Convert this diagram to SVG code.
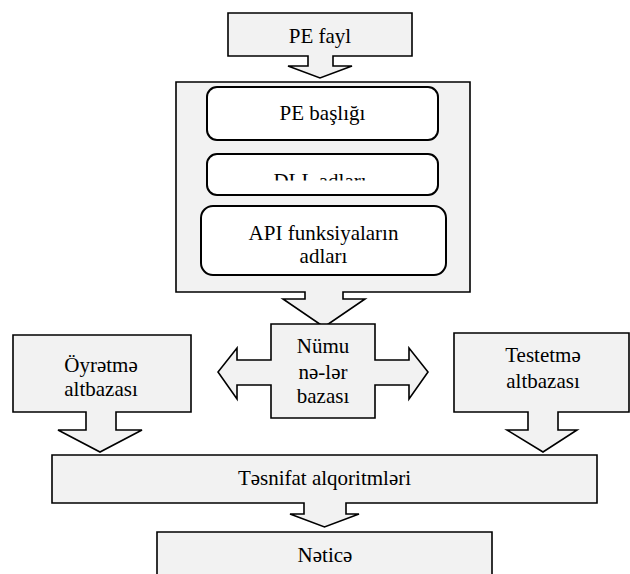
<svg xmlns="http://www.w3.org/2000/svg" width="630" height="574" viewBox="0 0 630 574">
<style>
.co{fill:#f2f2f2;stroke:#000;stroke-width:1.6;stroke-linejoin:miter}
.rb{fill:#fff;stroke:#000;stroke-width:2}
.t{font-family:'Liberation Serif',Tinos,'Times New Roman','DejaVu Serif',serif;font-size:21px;fill:#000;text-anchor:middle}
</style>
<defs>
<clipPath id="dllclip"><rect x="200" y="150" width="250" height="30.5"/></clipPath>
</defs>
<rect width="630" height="574" fill="#fff"/>
<g id="connectors"></g>
<g id="pe-fayl">
<path class="co" d="M228,13 H412 V56 H333 V66 H352 L320,78 L288,66 H308 V56 H228 Z"/>
<text class="t" x="320" y="43">PE fayl</text>
</g>
<g id="pe-container">
<path class="co" d="M176,82 H470 V292 H343 V299 H365 L324,327 L283,299 H305 V292 H176 Z"/>
</g>
<g id="pe-basligi">
<rect class="rb" x="207" y="87" width="231" height="53" rx="10"/>
<text class="t" x="322.5" y="120">PE başlığı</text>
</g>
<g id="dll-adlari">
<rect class="rb" x="207" y="154" width="231" height="41" rx="10"/>
<text class="t" x="320" y="188" clip-path="url(#dllclip)">DLL adları</text>
</g>
<g id="api-adlari">
<rect class="rb" x="201" y="206" width="245" height="69" rx="12"/>
<text class="t" x="323.5" y="240">API funksiyaların</text>
<text class="t" x="323.5" y="263">adları</text>
</g>
<g id="numuneler">
<path class="co" d="M271,324 H375 V360 H409 V348 L428,372 L409,399 V385 H375 V418 H271 V385 H237 V399 L218,372 L237,348 V360 H271 Z"/>
<text class="t" x="323" y="353">Nümu</text>
<text class="t" x="323" y="379">nə-lər</text>
<text class="t" x="323" y="403">bazası</text>
</g>
<g id="oyretme">
<path class="co" d="M13,335 H191 V412 H116 V430 H142 L100,452 L58,430 H86 V412 H13 Z"/>
<text class="t" x="101" y="372">Öyrətmə</text>
<text class="t" x="101" y="396">altbazası</text>
</g>
<g id="testetme">
<path class="co" d="M454,333 H629 V412 H558 V430 H577 L543,452 L507,430 H528 V412 H454 Z"/>
<text class="t" x="543" y="362">Testetmə</text>
<text class="t" x="543" y="388">altbazası</text>
</g>
<g id="tesnifat">
<path class="co" d="M52,455 H597 V503 H346 V514 H359 L324.5,527 L290,514 H304 V503 H52 Z"/>
<text class="t" x="324.5" y="485">Təsnifat alqoritmləri</text>
</g>
<g id="netice">
<path class="co" d="M157,580 V532 H492 V580"/>
<text class="t" x="325" y="562">Nəticə</text>
</g>
</svg>
